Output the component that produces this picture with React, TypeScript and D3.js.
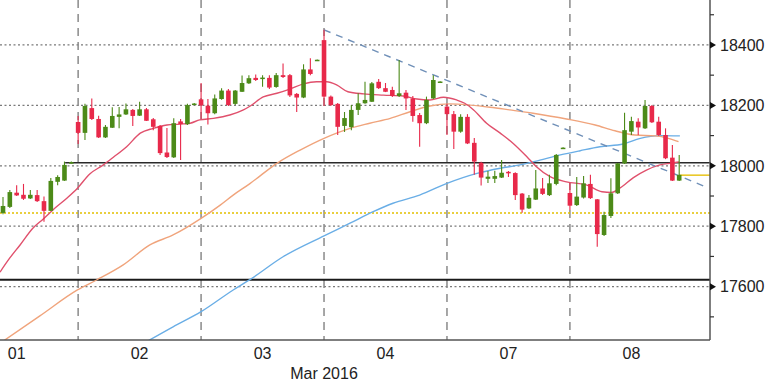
import React from "react";
import * as d3 from "d3";

// ---- data ----
// hourly candles: [open, high, low, close]
const candles: [number, number, number, number][] = [
  [17844, 17897, 17840, 17867], [17864, 17920, 17860, 17913], [17911, 17936, 17900, 17902],
  [17904, 17940, 17887, 17891], [17892, 17920, 17890, 17904], [17903, 17920, 17880, 17883],
  [17883, 17898, 17815, 17851], [17851, 17960, 17850, 17950], [17947, 17969, 17936, 17963],
  [17951, 18014, 17950, 18003], [18010, 18014, 18008, 18012],
  [18145, 18165, 18072, 18109], [18109, 18205, 18085, 18198], [18191, 18223, 18152, 18155],
  [18155, 18166, 18092, 18094], [18094, 18135, 18092, 18129], [18126, 18194, 18125, 18165],
  [18162, 18195, 18124, 18170], [18170, 18206, 18168, 18187], [18185, 18188, 18132, 18165],
  [18166, 18212, 18165, 18187], [18187, 18191, 18148, 18149], [18154, 18158, 18118, 18129],
  [18132, 18135, 18036, 18042], [18044, 18125, 18026, 18029], [18028, 18157, 18026, 18141],
  [18147, 18155, 18019, 18138], [18138, 18205, 18135, 18201], [18203, 18208, 18201, 18206],
  [18220, 18274, 18155, 18200], [18199, 18221, 18137, 18174], [18174, 18236, 18171, 18223],
  [18221, 18257, 18219, 18249], [18249, 18254, 18198, 18201], [18205, 18251, 18201, 18249],
  [18245, 18299, 18244, 18274], [18273, 18300, 18271, 18290], [18291, 18302, 18281, 18284],
  [18287, 18300, 18262, 18292], [18291, 18300, 18254, 18259], [18261, 18307, 18258, 18300],
  [18300, 18339, 18291, 18294], [18300, 18304, 18228, 18233], [18238, 18241, 18178, 18226],
  [18226, 18336, 18224, 18319], [18319, 18356, 18300, 18304], [18349, 18352, 18348, 18351],
  [18416, 18450, 18198, 18229], [18229, 18233, 18198, 18201], [18205, 18208, 18102, 18129],
  [18132, 18178, 18112, 18158], [18128, 18201, 18118, 18185], [18185, 18240, 18168, 18207],
  [18207, 18278, 18205, 18218], [18212, 18277, 18211, 18273], [18278, 18287, 18254, 18257],
  [18257, 18274, 18244, 18245], [18251, 18262, 18228, 18231], [18231, 18350, 18228, 18240],
  [18242, 18251, 18185, 18223], [18223, 18231, 18146, 18165], [18168, 18175, 18063, 18141],
  [18141, 18229, 18138, 18218], [18223, 18300, 18221, 18284], [18277, 18280, 18276, 18279],
  [18196, 18205, 18102, 18171], [18171, 18181, 18056, 18113], [18113, 18171, 18109, 18162],
  [18162, 18171, 18072, 18074], [18076, 18092, 17970, 18014], [18010, 18013, 17935, 17961],
  [17957, 17983, 17943, 17964], [17957, 17984, 17943, 17966], [17961, 18019, 17960, 17977],
  [17980, 17983, 17963, 17976], [17976, 17979, 17887, 17903], [17908, 17910, 17845, 17855],
  [17859, 17903, 17857, 17894], [17888, 17986, 17887, 17925], [17925, 17960, 17903, 17907],
  [17903, 17970, 17900, 17942], [17940, 18039, 17936, 18036], [18058, 18061, 18057, 18060],
  [17910, 17943, 17854, 17868], [17870, 17963, 17867, 17898], [17895, 17966, 17892, 17942],
  [17940, 17970, 17890, 17893], [17889, 17890, 17732, 17774], [17771, 17848, 17768, 17837],
  [17834, 17959, 17827, 17909], [17909, 18009, 17907, 18008], [18008, 18176, 18006, 18118],
  [18113, 18162, 18102, 18148], [18146, 18157, 18102, 18127], [18124, 18218, 18122, 18198],
  [18198, 18201, 18142, 18144], [18146, 18162, 18099, 18102], [18102, 18124, 18022, 18025],
  [18027, 18069, 17950, 17951], [17951, 18036, 17950, 17970],
];

// moving averages: [candle position, value]
const fastMA: [number, number][] = [
  [-0.44, 17648], [1.0, 17695], [2.5, 17738], [4.4, 17794], [5.9, 17824], [7.3, 17854],
  [9.3, 17892], [10.9, 17926], [12.7, 17973], [14.7, 18003], [16.2, 18029], [18.1, 18063],
  [20.1, 18108], [22.0, 18124], [24.0, 18135], [25.9, 18138], [27.4, 18141], [28.8, 18152],
  [30.8, 18157], [33.2, 18168], [35.2, 18185], [36.2, 18198], [38.1, 18228], [40.1, 18240],
  [42.0, 18254], [44.0, 18271], [45.9, 18278], [47.4, 18278], [48.9, 18267], [50.5, 18245],
  [52.8, 18238], [55.7, 18234], [58.6, 18231], [60.6, 18221], [62.5, 18218], [64.5, 18227],
  [66.4, 18218], [67.6, 18207], [68.9, 18185], [70.8, 18141], [72.8, 18108], [74.7, 18074],
  [76.7, 18030], [78.1, 17997], [80.1, 17964], [82.5, 17947], [85.5, 17936], [87.7, 17914],
  [89.1, 17912], [90.3, 17926], [92.3, 17961], [94.2, 17986], [96.2, 18003], [97.9, 18009],
  [99.0, 18013],
];
const midMA: [number, number][] = [
  [-0.6, 17410], [5.4, 17503], [10.9, 17589], [13.7, 17622], [17.6, 17672], [21.5, 17738],
  [24.9, 17771], [29.0, 17826], [31.8, 17870], [33.7, 17903], [36.2, 17942], [37.6, 17966],
  [40.1, 18008], [43.5, 18052], [47.0, 18091], [50.8, 18124], [53.7, 18141], [56.7, 18157],
  [59.6, 18179], [62.5, 18198], [65.4, 18205], [68.4, 18201], [71.3, 18194], [74.2, 18185],
  [77.6, 18174], [82.5, 18155], [86.7, 18135], [89.6, 18116], [92.5, 18102], [95.5, 18099],
  [97.4, 18091], [98.9, 18080],
];
const slowMA: [number, number][] = [
  [20.1, 17406], [24.9, 17467], [29.0, 17517], [33.7, 17589], [36.2, 17624], [41.0, 17699],
  [47.0, 17768], [50.8, 17810], [54.2, 17848], [57.1, 17876], [61.0, 17903], [65.0, 17942],
  [69.4, 17975], [72.8, 17992], [75.7, 18003], [78.6, 18019], [81.6, 18036], [84.5, 18050],
  [87.4, 18063], [90.8, 18072], [93.3, 18091], [96.2, 18100], [99.1, 18099],
];
const trendLine: [number, number][] = [[47, 18450], [102.6, 17933]];

const resistanceLevel = 18010;
const resistanceStart = 9.1;
const supportLevel = 17623;
const yellowLevel = 17844;
const lastPrice = 17969;

const dayLabels = ["01", "02", "03", "04", "07", "08"];
const dayStart = [-7, 11, 29, 47, 65, 83];
const majorTicks = [17600, 17800, 18000, 18200, 18400];
const minorTicks = [17500, 17700, 17900, 18100, 18300, 18500];
const monthLabel = "Mar 2016";

// ---- layout ----
const W = 768, H = 384;
const PR = 710, PB = 340;
const GREEN = "#4c8a18";
const RED = "#e8294a";
const FONT = "'Liberation Sans', Arial, sans-serif";

export default function App() {
  const x = d3.scaleLinear().domain([0, 99]).range([3, 679.2]);
  const y = d3.scaleLinear().domain([17423.4, 18548.8]).range([PB, 0]);
  const line = d3
    .line<[number, number]>()
    .x((d) => x(d[0]))
    .y((d) => y(d[1]))
    .curve(d3.curveMonotoneX);
  const straight = d3.line<[number, number]>().x((d) => x(d[0])).y((d) => y(d[1]));
  const bw = 4.6;

  return (
    <svg
      width={W}
      height={H}
      style={{ position: "absolute", left: 0, top: 0, background: "#fff" }}
    >
      <defs>
        <clipPath id="plot">
          <rect x={0} y={0} width={PR} height={PB} />
        </clipPath>
      </defs>

      {/* grid */}
      {majorTicks.map((t) => (
        <line key={"g" + t} x1={0} x2={PR} y1={y(t)} y2={y(t)} stroke="#7a7a7a"
          strokeWidth={1.3} strokeDasharray="2,2.5" />
      ))}
      {dayStart.filter((s) => s >= 0).map((s) => (
        <line key={"v" + s} x1={x(s)} x2={x(s)} y1={0} y2={PB} stroke="#8a8a8a"
          strokeWidth={1.5} strokeDasharray="8,6" />
      ))}

      <g clipPath="url(#plot)">
        {/* levels */}
        <line x1={0} x2={PR} y1={y(yellowLevel)} y2={y(yellowLevel)} stroke="#e2c000"
          strokeWidth={1.5} strokeDasharray="2,2" />
        <line x1={0} x2={PR} y1={y(supportLevel)} y2={y(supportLevel)} stroke="#1a1a1a" strokeWidth={2} />
        <line x1={x(resistanceStart)} x2={PR} y1={y(resistanceLevel)} y2={y(resistanceLevel)}
          stroke="#2a2a2a" strokeWidth={1.6} />
        <line x1={x(99)} x2={PR} y1={y(lastPrice)} y2={y(lastPrice)} stroke="#e8c41a" strokeWidth={1.5} />

        {/* moving averages */}
        <path d={line(slowMA) || ""} fill="none" stroke="#6aaee6" strokeWidth={1.4} />
        <path d={line(midMA) || ""} fill="none" stroke="#f0a47c" strokeWidth={1.4} />
        <path d={line(fastMA) || ""} fill="none" stroke="#e0506c" strokeWidth={1.4} />

        {/* trend line */}
        <path d={straight(trendLine) || ""} fill="none" stroke="#7090b8" strokeWidth={1.4}
          strokeDasharray="7,6" />

        {/* candles */}
        {candles.map(([o, h, l, c], i) => {
          const up = c >= o;
          const col = up ? GREEN : RED;
          const top = y(Math.max(o, c));
          const bot = y(Math.min(o, c));
          const cx = x(i);
          return (
            <g key={i}>
              <line x1={cx} x2={cx} y1={y(h)} y2={y(l)} stroke={col} strokeWidth={1.1} />
              <rect x={cx - bw / 2} y={top} width={bw} height={Math.max(1.5, bot - top)} fill={col} />
            </g>
          );
        })}
      </g>

      {/* axes */}
      <line x1={PR} x2={PR} y1={0} y2={PB} stroke="#555" strokeWidth={1.5} />
      <line x1={0} x2={PR} y1={PB} y2={PB} stroke="#555" strokeWidth={1.5} />
      {minorTicks.map((t) => (
        <line key={"m" + t} x1={PR} x2={PR + 4} y1={y(t)} y2={y(t)} stroke="#333" strokeWidth={1.2} />
      ))}
      {majorTicks.map((t) => (
        <g key={"t" + t}>
          <path d={`M${PR},${y(t) - 3.5}L${PR + 6},${y(t)}L${PR},${y(t) + 3.5}Z`} fill="#111" />
          <text x={PR + 10} y={y(t)} dy="0.36em" fontFamily={FONT} fontSize={16} fill="#222">
            {t}
          </text>
        </g>
      ))}
      {dayLabels.map((lab, k) => (
        <text key={lab} x={x(dayStart[k] + 9)} y={353} dy="0.36em" textAnchor="middle"
          fontFamily={FONT} fontSize={16} fill="#222">
          {lab}
        </text>
      ))}
      <text x={x(47)} y={373} dy="0.36em" textAnchor="middle" fontFamily={FONT} fontSize={16} fill="#222">
        {monthLabel}
      </text>
    </svg>
  );
}
